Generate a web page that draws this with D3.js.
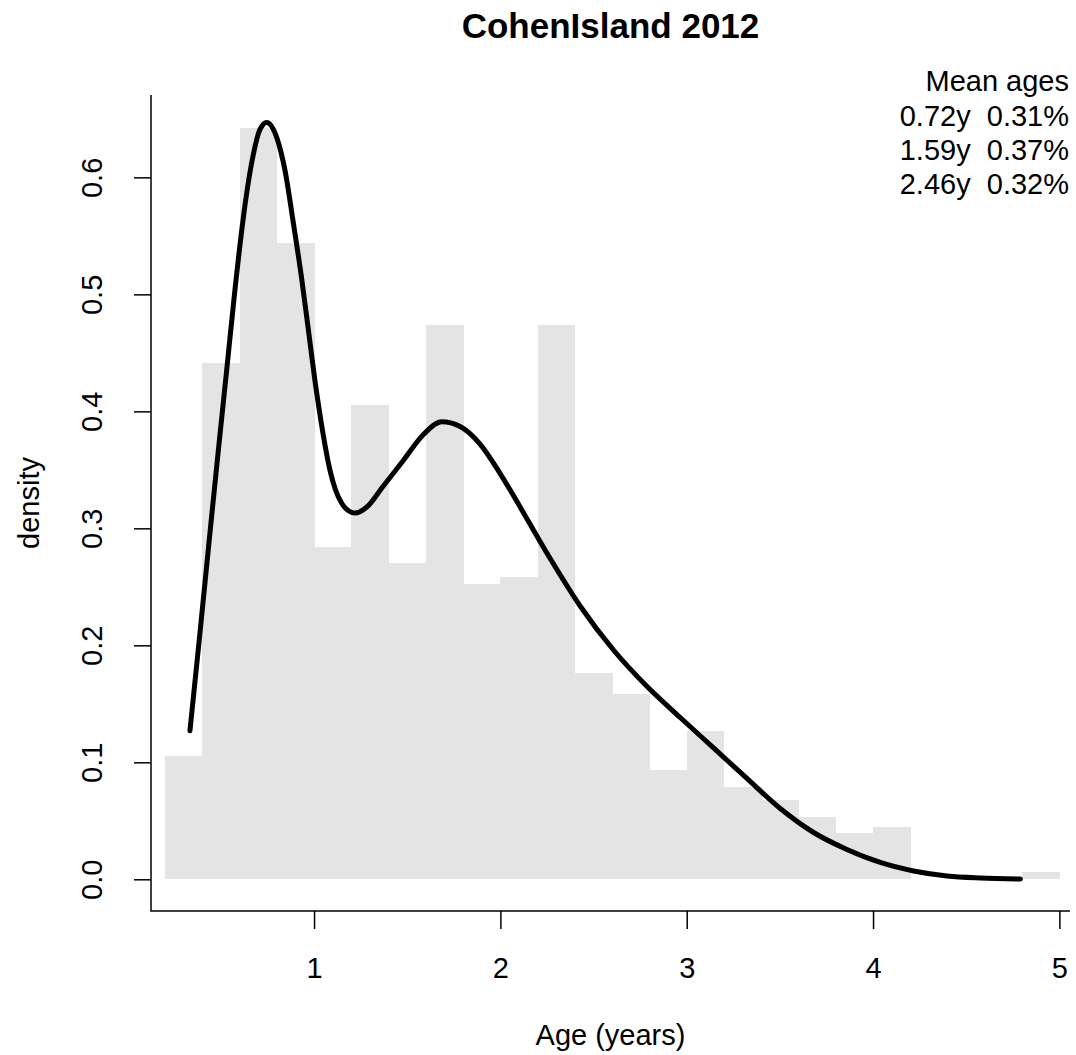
<!DOCTYPE html>
<html>
<head>
<meta charset="utf-8">
<script src="https://cdn.jsdelivr.net/npm/d3@7"></script>
<style>
  html, body { margin: 0; padding: 0; background: #fff; }
  svg { display: block; font-family: "Liberation Sans", Arial, sans-serif; }
</style>
</head>
<body>
<svg id="chart" width="1076" height="1055"></svg>
<script>
// ---- data ----
const title = "CohenIsland 2012";
const xLabel = "Age (years)";
const yLabel = "density";
const xTicks = [1, 2, 3, 4, 5];
const yTicks = [0.0, 0.1, 0.2, 0.3, 0.4, 0.5, 0.6];
const binWidth = 0.2;
const binStart = [0.2, 0.4, 0.6, 0.8, 1.0, 1.2, 1.4, 1.6, 1.8, 2.0, 2.2, 2.4,
                  2.6, 2.8, 3.0, 3.2, 3.4, 3.6, 3.8, 4.0, 4.2, 4.4, 4.6, 4.8];
const binDensity = [0.105, 0.441, 0.642, 0.544, 0.284, 0.405, 0.270, 0.474, 0.252, 0.258, 0.474, 0.176,
                    0.158, 0.093, 0.127, 0.079, 0.068, 0.053, 0.040, 0.045, 0.0, 0.0, 0.0, 0.006];
const curveAge = [0.334, 0.388, 0.442, 0.486, 0.531, 0.575, 0.620, 0.666, 0.710, 0.746, 0.800, 0.844,
                  0.889, 0.934, 0.979, 1.005, 1.032, 1.059, 1.085, 1.115, 1.150, 1.185, 1.220, 1.282,
                  1.371, 1.479, 1.586, 1.685, 1.784, 1.891, 1.998, 2.070, 2.249, 2.428, 2.607, 2.786,
                  2.965, 3.144, 3.323, 3.502, 3.681, 3.860, 4.039, 4.218, 4.397, 4.576, 4.791];
const curveDensity = [0.127, 0.211, 0.297, 0.366, 0.435, 0.503, 0.565, 0.613, 0.641, 0.647, 0.634, 0.606,
                      0.561, 0.513, 0.458, 0.426, 0.397, 0.371, 0.350, 0.333, 0.321, 0.315, 0.313, 0.318,
                      0.336, 0.358, 0.380, 0.391, 0.387, 0.372, 0.347, 0.328, 0.279, 0.2336, 0.196, 0.165,
                      0.1383, 0.1123, 0.0862, 0.0605, 0.0400, 0.0255, 0.0144, 0.0071, 0.0028, 0.0011, 0.0003];
const legendTitle = "Mean ages";
const legendMeans = ["0.72y", "1.59y", "2.46y"];
const legendProps = ["0.31%", "0.37%", "0.32%"];

// ---- layout ----
const svg = d3.select("#chart");
const plot = { left: 151, right: 1070, top: 95, bottom: 911 };
const x = d3.scaleLinear().domain([0.125, 5.057]).range([plot.left, plot.right]);
const y = d3.scaleLinear().domain([-0.0271, 0.6704]).range([plot.bottom, plot.top]);
const fontSize = 29;

// histogram
svg.append("g").attr("shape-rendering", "crispEdges").selectAll("rect")
  .data(binStart.map((s, i) => ({ s, d: binDensity[i] })))
  .join("rect")
  .attr("x", d => x(d.s))
  .attr("width", d => x(d.s + binWidth) - x(d.s) + 0.5)
  .attr("y", d => y(d.d))
  .attr("height", d => Math.max(0, y(0) - y(d.d)))
  .attr("fill", "#e4e4e4");

// density curve
const line = d3.line().x(d => x(d[0])).y(d => y(d[1])).curve(d3.curveMonotoneX);
svg.append("path")
  .datum(curveAge.map((a, i) => [a, curveDensity[i]]))
  .attr("d", line)
  .attr("fill", "none")
  .attr("stroke", "#000")
  .attr("stroke-width", 5)
  .attr("stroke-linecap", "round")
  .attr("stroke-linejoin", "round");

// axes
const xAxis = d3.axisBottom(x).tickValues(xTicks).tickFormat(d3.format("d")).tickSizeOuter(0).tickSizeInner(18).tickPadding(28);
const gx = svg.append("g").attr("transform", `translate(0,${plot.bottom})`).call(xAxis);
gx.select(".domain").remove();
gx.selectAll("line").attr("stroke", "#000").attr("stroke-width", 1.5);
gx.selectAll("text").attr("font-size", fontSize).attr("font-family", "Liberation Sans, Arial, sans-serif").attr("fill", "#000");

const yAxis = d3.axisLeft(y).tickValues(yTicks).tickFormat(d3.format(".1f")).tickSizeOuter(0).tickSizeInner(17);
const gy = svg.append("g").attr("transform", `translate(${plot.left},0)`).call(yAxis);
gy.select(".domain").remove();
gy.selectAll("line").attr("stroke", "#000").attr("stroke-width", 1.5);
gy.selectAll("text")
  .attr("font-size", fontSize).attr("font-family", "Liberation Sans, Arial, sans-serif").attr("fill", "#000")
  .attr("x", null).attr("dy", null).attr("y", 0)
  .attr("text-anchor", "middle")
  .attr("transform", `translate(${102 - plot.left},0) rotate(-90)`);

// L-shaped box
svg.append("path")
  .attr("d", `M${plot.left},${plot.top}V${plot.bottom}H${plot.right}`)
  .attr("fill", "none").attr("stroke", "#000").attr("stroke-width", 1.5);

// titles
svg.append("text").attr("x", (plot.left + plot.right) / 2).attr("y", 38)
  .attr("text-anchor", "middle").attr("font-size", 35).attr("font-weight", "bold").text(title);
svg.append("text").attr("x", (plot.left + plot.right) / 2).attr("y", 1045)
  .attr("text-anchor", "middle").attr("font-size", fontSize).text(xLabel);
svg.append("text").attr("transform", `translate(39,${(plot.top + plot.bottom) / 2}) rotate(-90)`)
  .attr("text-anchor", "middle").attr("font-size", fontSize).text(yLabel);

// legend
const lg = svg.append("g").attr("font-size", fontSize).attr("text-anchor", "end");
lg.append("text").attr("x", 1069).attr("y", 91).text(legendTitle);
legendMeans.forEach((m, i) => {
  lg.append("text").attr("x", 1069).attr("y", 126 + i * 34)
    .attr("xml:space", "preserve").style("white-space", "pre")
    .text(`${m}  ${legendProps[i]}`);
});
</script>
</body>
</html>
